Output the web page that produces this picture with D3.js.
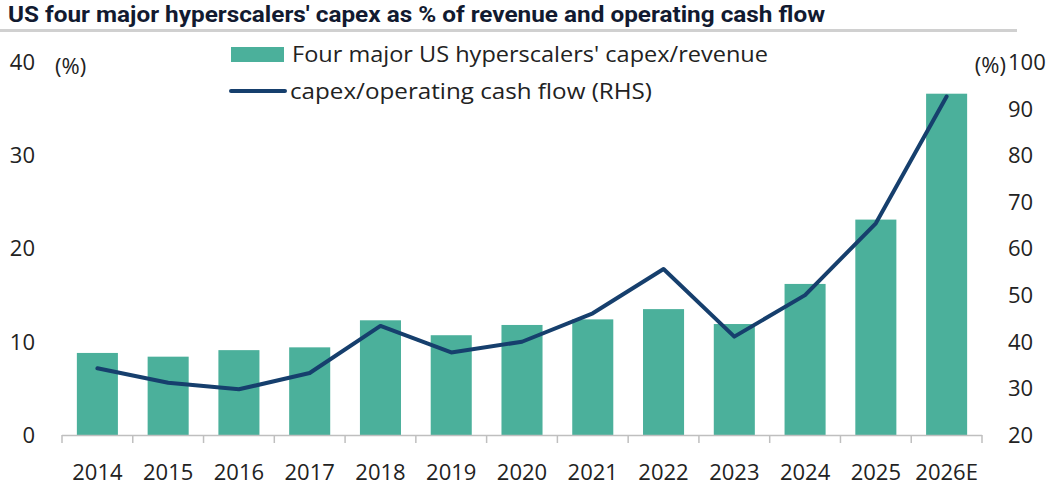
<!DOCTYPE html>
<html>
<head>
<meta charset="utf-8">
<script src="https://cdn.jsdelivr.net/npm/d3@7"></script>
<style>
  body { margin: 0; background: #fff; }
  svg { display: block; }
</style>
</head>
<body>
<div id="chart"></div>
<script>
var width = 1061,
    height = 492,
    plotLeft = 62,
    plotRight = 982,
    plotTop = 62,
    plotBottom = 435;

var barColor = "#4bb09b",
    lineColor = "#163f6d",
    axisColor = "#bfbfbf",
    textColor = "#222";

// data
var categories = ["2014", "2015", "2016", "2017", "2018", "2019", "2020", "2021", "2022", "2023", "2024", "2025", "2026E"];
var capexRevenue = [8.8, 8.4, 9.1, 9.4, 12.3, 10.7, 11.8, 12.4, 13.5, 11.9, 16.2, 23.1, 36.6];
var capexCashFlow = [34.3, 31.2, 29.8, 33.3, 43.4, 37.7, 40.0, 46.1, 55.6, 41.1, 50.0, 65.4, 92.6];
var leftTicks = [0, 10, 20, 30, 40];
var rightTicks = [20, 30, 40, 50, 60, 70, 80, 90, 100];

var svg = d3.select("#chart")
    .append("svg")
    .attr("width", width)
    .attr("height", height);

// title + grey rule under it
svg.append("text")
    .attr("x", 8)
    .attr("y", 22)
    .attr("textLength", 817)
    .attr("lengthAdjust", "spacingAndGlyphs")
    .style("font-family", "Roboto")
    .style("font-weight", "bold")
    .style("font-size", "22px")
    .style("fill", "#121a30")
    .text("US four major hyperscalers' capex as % of revenue and operating cash flow");

svg.append("rect")
    .attr("x", 0)
    .attr("y", 29)
    .attr("width", 1017)
    .attr("height", 3)
    .style("fill", "#d0d0d0");

var x = d3.scaleBand()
    .domain(categories)
    .range([plotLeft, plotRight])
    .paddingInner(0.42)
    .paddingOuter(0.21);

var yLeft = d3.scaleLinear().domain([0, 40]).range([plotBottom, plotTop]);
var yRight = d3.scaleLinear().domain([20, 100]).range([plotBottom, plotTop]);

// bars
svg.append("g")
    .selectAll("rect")
    .data(capexRevenue)
    .enter()
    .append("rect")
    .attr("x", function(d, i) { return x(categories[i]); })
    .attr("y", function(d) { return yLeft(d); })
    .attr("width", x.bandwidth())
    .attr("height", function(d) { return yLeft(0) - yLeft(d); })
    .style("fill", barColor);

// line on right axis
var line = d3.line()
    .x(function(d, i) { return x(categories[i]) + x.bandwidth() / 2; })
    .y(function(d) { return yRight(d); });

svg.append("path")
    .datum(capexCashFlow)
    .attr("d", line)
    .style("fill", "none")
    .style("stroke", lineColor)
    .style("stroke-width", 4)
    .style("stroke-linejoin", "round")
    .style("stroke-linecap", "round");

// x axis: baseline with ticks between categories
var xAxis = svg.append("g");
xAxis.append("line")
    .attr("x1", plotLeft)
    .attr("x2", plotRight)
    .attr("y1", plotBottom + 0.5)
    .attr("y2", plotBottom + 0.5)
    .style("stroke", axisColor)
    .style("stroke-width", 1.5);

xAxis.selectAll("line.tick")
    .data(d3.range(categories.length + 1))
    .enter()
    .append("line")
    .attr("class", "tick")
    .attr("x1", function(i) { return plotLeft + i * x.step(); })
    .attr("x2", function(i) { return plotLeft + i * x.step(); })
    .attr("y1", plotBottom)
    .attr("y2", plotBottom + 8)
    .style("stroke", axisColor)
    .style("stroke-width", 1.5);

xAxis.selectAll("text")
    .data(categories)
    .enter()
    .append("text")
    .attr("x", function(d) { return x(d) + x.bandwidth() / 2; })
    .attr("y", 480)
    .attr("text-anchor", "middle")
    .style("font-family", "Open Sans")
    .style("font-size", "22px")
    .style("fill", textColor)
    .text(function(d) { return d; });

// left axis labels
svg.append("g")
    .selectAll("text")
    .data(leftTicks)
    .enter()
    .append("text")
    .attr("x", 35)
    .attr("y", function(d) { return yLeft(d); })
    .attr("dy", "0.36em")
    .attr("text-anchor", "end")
    .style("font-family", "Open Sans")
    .style("font-size", "22px")
    .style("fill", textColor)
    .text(function(d) { return d; });

svg.append("text")
    .attr("x", 55)
    .attr("y", 66)
    .attr("dy", "0.36em")
    .style("font-family", "Open Sans")
    .style("font-size", "22px")
    .style("fill", textColor)
    .text("(%)");

// right axis labels
svg.append("g")
    .selectAll("text")
    .data(rightTicks)
    .enter()
    .append("text")
    .attr("x", 1008)
    .attr("y", function(d) { return yRight(d); })
    .attr("dy", "0.36em")
    .style("font-family", "Open Sans")
    .style("font-size", "22px")
    .style("fill", textColor)
    .text(function(d) { return d; });

svg.append("text")
    .attr("x", 1006)
    .attr("y", 65)
    .attr("dy", "0.36em")
    .attr("text-anchor", "end")
    .style("font-family", "Open Sans")
    .style("font-size", "22px")
    .style("fill", textColor)
    .text("(%)");

// legend
var legend = svg.append("g");
legend.append("rect")
    .attr("x", 231)
    .attr("y", 47)
    .attr("width", 53)
    .attr("height", 15)
    .style("fill", barColor);
legend.append("text")
    .attr("x", 292)
    .attr("y", 62)
    .attr("textLength", 476)
    .attr("lengthAdjust", "spacingAndGlyphs")
    .style("font-family", "Open Sans")
    .style("font-size", "22px")
    .style("fill", textColor)
    .text("Four major US hyperscalers' capex/revenue");

legend.append("line")
    .attr("x1", 231)
    .attr("x2", 285)
    .attr("y1", 91)
    .attr("y2", 91)
    .style("stroke", lineColor)
    .style("stroke-width", 4)
    .style("stroke-linecap", "round");
legend.append("text")
    .attr("x", 290)
    .attr("y", 99)
    .attr("textLength", 362)
    .attr("lengthAdjust", "spacingAndGlyphs")
    .style("font-family", "Open Sans")
    .style("font-size", "22px")
    .style("fill", textColor)
    .text("capex/operating cash flow (RHS)");
</script>
</body>
</html>
